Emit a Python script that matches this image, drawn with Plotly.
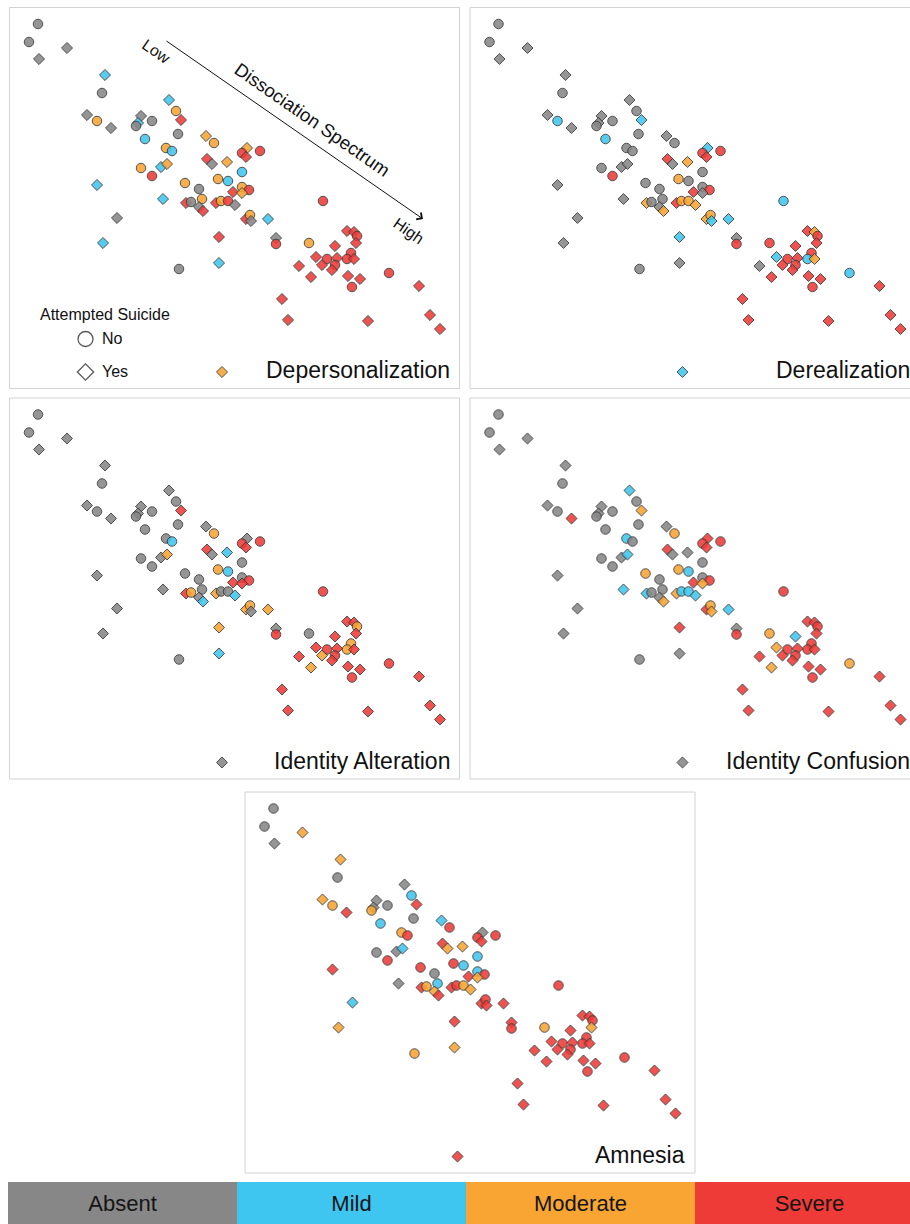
import plotly.graph_objects as go

W, H = 910, 1224
FONT = "Liberation Sans, Arial, sans-serif"

# Two-dimensional embedding of each respondent (shared by every panel)
dim1 = [2.8, 1.9, 2.9, 5.7, 9.5, 9.2, 7.7, 8.7, 10.1, 13.1,
        14.2, 12.8, 12.6, 15.9, 16.6, 17.1, 16.8, 13.5, 19.6, 20.4,
        15.6, 16.2, 23.7, 23.2, 23.6, 25.0, 19.7, 20.2, 21.7, 13.1,
        15.1, 15.7, 14.2, 23.2, 17.5, 20.8, 21.8, 18.9, 23.2, 23.9,
        22.3, 23.2, 15.3, 17.6, 18.1, 19.2, 18.9, 19.3, 20.6, 21.1,
        21.8, 22.5, 23.6, 24.0, 24.1, 25.8, 31.3, 8.7, 10.7, 9.3,
        16.9, 20.9, 20.9, 26.6, 26.6, 29.9, 33.7, 34.4, 34.7, 34.6,
        32.5, 30.6, 31.7, 32.7, 34.1, 33.7, 34.4, 31.2, 32.5, 32.2,
        28.9, 30.1, 33.8, 35.0, 34.2, 37.9, 40.9, 27.2, 27.8, 35.8,
        42.0, 43.0, 21.2]
dim2 = [36.4, 34.6, 32.9, 34.0, 31.3, 29.5, 27.3, 26.7, 26.0, 27.2,
        26.7, 26.5, 26.2, 28.8, 27.7, 26.8, 25.4, 24.9, 25.2, 24.5,
        24.0, 23.7, 24.0, 23.5, 23.1, 23.7, 22.9, 22.4, 22.6, 22.0,
        22.1, 22.4, 21.2, 21.6, 20.5, 20.9, 20.7, 19.9, 20.1, 19.8,
        19.6, 19.5, 18.9, 18.5, 18.6, 18.9, 18.1, 17.7, 18.5, 18.7,
        18.7, 18.3, 16.9, 17.3, 16.7, 16.9, 18.7, 20.3, 17.0, 14.5,
        11.9, 15.1, 12.5, 15.0, 14.4, 14.5, 15.7, 15.6, 15.2, 14.5,
        14.2, 13.1, 12.9, 13.0, 13.5, 12.9, 12.9, 12.3, 12.3, 11.8,
        12.2, 11.1, 11.2, 10.9, 10.1, 11.5, 10.2, 8.9, 6.8, 6.7,
        7.3, 5.9, 1.6]

# Attempted suicide: 0 = No, 1 = Yes
attempted = [0, 0, 1, 1, 1, 0, 1, 0, 1, 1,
             0, 1, 0, 1, 0, 1, 0, 0, 1, 0,
             0, 0, 1, 0, 1, 0, 1, 1, 1, 0,
             1, 1, 0, 0, 0, 0, 0, 0, 0, 0,
             1, 1, 1, 1, 0, 0, 1, 1, 1, 0,
             0, 1, 1, 0, 1, 1, 0, 1, 1, 1,
             0, 1, 1, 1, 0, 0, 1, 1, 0, 1,
             1, 1, 0, 1, 0, 0, 1, 1, 0, 1,
             1, 1, 1, 1, 0, 0, 1, 1, 1, 1,
             1, 1, 1]

# Severity per dimension: 0 Absent, 1 Mild, 2 Moderate, 3 Severe
depersonalization = [0, 0, 0, 0, 1, 0, 0, 2, 0, 0,
                     0, 1, 0, 1, 2, 3, 0, 1, 2, 2,
                     2, 1, 2, 3, 3, 3, 3, 0, 2, 2,
                     1, 2, 3, 1, 2, 2, 1, 0, 2, 3,
                     3, 2, 1, 3, 0, 2, 0, 3, 3, 2,
                     3, 0, 3, 2, 0, 1, 3, 1, 0, 1,
                     0, 3, 1, 0, 3, 2, 3, 3, 3, 3,
                     3, 3, 3, 3, 3, 3, 3, 3, 3, 3,
                     3, 3, 3, 3, 3, 3, 3, 3, 3, 3,
                     3, 3, 2]
derealization = [0, 0, 0, 0, 0, 0, 0, 1, 0, 0,
                 0, 0, 0, 0, 0, 1, 0, 1, 0, 0,
                 0, 0, 1, 3, 3, 3, 3, 0, 2, 0,
                 0, 0, 3, 0, 0, 2, 0, 0, 0, 3,
                 3, 0, 0, 2, 0, 0, 0, 2, 3, 2,
                 2, 2, 2, 2, 1, 1, 1, 0, 0, 0,
                 0, 1, 0, 0, 3, 3, 3, 2, 3, 3,
                 3, 1, 3, 3, 3, 1, 2, 3, 3, 3,
                 0, 3, 3, 3, 3, 1, 3, 3, 3, 3,
                 3, 3, 1]
identity_alteration = [0, 0, 0, 0, 0, 0, 0, 0, 0, 0,
                       0, 0, 0, 0, 0, 3, 0, 0, 0, 2,
                       0, 1, 0, 3, 3, 3, 3, 0, 1, 0,
                       0, 2, 0, 0, 0, 2, 1, 0, 0, 3,
                       3, 3, 0, 3, 2, 0, 0, 1, 2, 0,
                       0, 1, 2, 2, 0, 2, 3, 0, 0, 0,
                       0, 2, 1, 0, 3, 0, 3, 3, 2, 3,
                       3, 3, 3, 3, 2, 2, 3, 2, 3, 3,
                       3, 2, 3, 3, 3, 3, 3, 3, 3, 3,
                       3, 3, 0]
identity_confusion = [0, 0, 0, 0, 0, 0, 0, 0, 3, 0,
                      0, 0, 0, 1, 0, 2, 0, 0, 0, 2,
                      1, 0, 3, 3, 3, 3, 3, 0, 0, 0,
                      0, 1, 0, 0, 2, 2, 1, 0, 0, 3,
                      3, 2, 1, 1, 0, 0, 0, 2, 2, 1,
                      1, 1, 3, 2, 2, 1, 3, 0, 0, 0,
                      0, 3, 0, 0, 3, 2, 3, 3, 3, 3,
                      1, 2, 3, 3, 3, 3, 3, 3, 3, 3,
                      3, 2, 3, 3, 3, 2, 3, 3, 3, 3,
                      3, 3, 0]
amnesia = [0, 0, 0, 2, 2, 0, 2, 2, 3, 0,
           0, 0, 2, 0, 1, 3, 0, 1, 1, 3,
           2, 3, 0, 3, 3, 3, 3, 2, 2, 0,
           0, 1, 3, 1, 3, 3, 1, 0, 1, 3,
           3, 2, 0, 3, 2, 1, 2, 3, 3, 3,
           2, 2, 3, 3, 3, 3, 3, 3, 1, 2,
           2, 3, 2, 3, 3, 2, 3, 3, 3, 2,
           3, 3, 3, 3, 3, 3, 3, 3, 3, 3,
           3, 3, 3, 3, 3, 3, 3, 3, 3, 3,
           3, 3, 3]

severity_labels = ["Absent", "Mild", "Moderate", "Severe"]
severity_colors = ["#878787", "#3fc6f0", "#f8a533", "#ee3b37"]
attempt_labels = ["No", "Yes"]

# panel name, severity list, top-left pixel of the panel frame
panels = [
    ("Depersonalization", depersonalization, 9.5, 7.5),
    ("Derealization", derealization, 470.0, 7.5),
    ("Identity Alteration", identity_alteration, 9.5, 398.0),
    ("Identity Confusion", identity_confusion, 470.0, 398.0),
    ("Amnesia", amnesia, 245.0, 792.0),
]
PW, PH = 450.0, 381.0   # frame size in px
UNIT = 10.0             # px per embedding unit
X0, Y0 = -0.05, -0.05   # embedding value at the frame's left / bottom edge


def fx(px):
    return px / W


def fy(py):
    return 1 - py / H


fig = go.Figure()
layout = dict(
    width=W, height=H, margin=dict(l=0, r=0, t=0, b=0),
    paper_bgcolor="white", plot_bgcolor="white", showlegend=False,
    font=dict(family=FONT, color="#111111"),
    shapes=[], annotations=[], barmode="stack",
)

symbols = ["circle" if a == 0 else "diamond" for a in attempted]
sizes = [9.5 if a == 0 else 8.5 for a in attempted]

for i, (name, levels, left, top) in enumerate(panels):
    k = "" if i == 0 else str(i + 1)
    right = min(left + PW, W)
    xr = [X0, X0 + (right - left) / UNIT]
    yr = [Y0, Y0 + PH / UNIT]
    axis_style = dict(showgrid=False, zeroline=False, showticklabels=False,
                      showline=False, ticks="", fixedrange=True)
    layout["xaxis" + k] = dict(domain=[fx(left), fx(right)], range=xr,
                               anchor="y" + k, **axis_style)
    layout["yaxis" + k] = dict(domain=[fy(top + PH), fy(top)], range=yr,
                               anchor="x" + k, **axis_style)
    fig.add_trace(go.Scatter(
        x=dim1, y=dim2, mode="markers", xaxis="x" + k, yaxis="y" + k,
        marker=dict(symbol=symbols, size=sizes,
                    color=[severity_colors[v] for v in levels],
                    opacity=0.88,
                    line=dict(color="#383838", width=1)),
        hovertext=[f"{severity_labels[v]} / attempted: {attempt_labels[a]}"
                   for v, a in zip(levels, attempted)],
        hoverinfo="text",
    ))
    layout["shapes"].append(dict(
        type="rect", xref="paper", yref="paper",
        x0=fx(left), x1=fx(left + PW), y0=fy(top + PH), y1=fy(top),
        line=dict(color="#d2d2d2", width=1), fillcolor="rgba(0,0,0,0)",
        layer="below"))
    layout["annotations"].append(dict(
        text=name, xref="paper", yref="paper",
        x=fx(left + PW - 8), y=fy(top + 362.5),
        xanchor="right", yanchor="middle", showarrow=False,
        font=dict(size=23, color="#111111", family=FONT)))

# Dissociation spectrum arrow on the first panel
layout["annotations"] += [
    dict(text="", x=41.3, y=16.9, ax=15.5, ay=34.8, xref="x", yref="y",
         axref="x", ayref="y", showarrow=True, arrowhead=4, arrowsize=1.6,
         arrowwidth=1, arrowcolor="#111111", standoff=0, startstandoff=0),
    dict(text="Low", x=14.6, y=33.6, xref="x", yref="y", showarrow=False,
         textangle=34.8, font=dict(size=16, family=FONT, color="#111111")),
    dict(text="High", x=39.8, y=15.7, xref="x", yref="y", showarrow=False,
         textangle=34.8, font=dict(size=16, family=FONT, color="#111111")),
    dict(text="Dissociation Spectrum", x=30.2, y=26.8, xref="x", yref="y",
         showarrow=False, textangle=34.8,
         font=dict(size=18.5, family=FONT, color="#111111")),
]

# Shape key: Attempted Suicide
layout["annotations"].append(dict(
    text="Attempted Suicide", xref="paper", yref="paper", x=fx(38), y=fy(315),
    xanchor="left", yanchor="middle", showarrow=False,
    font=dict(size=16, family=FONT, color="#111111")))
key_top, key_bottom = 325.0, 385.0
layout["xaxis6"] = dict(domain=[fx(70), fx(110)], range=[-15.5, 24.5],
                        anchor="y6", visible=False, fixedrange=True)
layout["yaxis6"] = dict(domain=[fy(key_bottom), fy(key_top)], type="category",
                        categoryorder="array", categoryarray=attempt_labels,
                        range=[1.394, -0.424], anchor="x6", visible=False,
                        fixedrange=True)
fig.add_trace(go.Scatter(
    x=[0, 0], y=attempt_labels, mode="markers", xaxis="x6", yaxis="y6",
    marker=dict(symbol=["circle-open", "diamond-open"], size=[15, 12.5],
                color="#111111", line=dict(width=1.3)),
    hoverinfo="skip"))
for lab in attempt_labels:
    layout["annotations"].append(dict(
        text=lab, x=14.0, y=lab, xref="x6", yref="y6", xanchor="left",
        yanchor="middle", showarrow=False,
        font=dict(size=16, family=FONT, color="#111111")))

# Severity colour key along the bottom
SEG = 229.0
bar_left = 8.0
layout["xaxis7"] = dict(domain=[fx(bar_left), 1],
                        range=[0, (W - bar_left) / SEG], anchor="y7",
                        visible=False, fixedrange=True)
layout["yaxis7"] = dict(domain=[0, fy(1182)], range=[-0.5, 0.5],
                        anchor="x7", visible=False, fixedrange=True)
for lab, col in zip(severity_labels, severity_colors):
    fig.add_trace(go.Bar(
        y=[0], x=[1], orientation="h", width=1, xaxis="x7", yaxis="y7",
        marker=dict(color=col, line=dict(width=0)),
        text=[lab], textposition="inside", insidetextanchor="middle",
        textangle=0, cliponaxis=True,
        textfont=dict(size=22, family=FONT, color="#151515"),
        hoverinfo="skip"))

fig.update_layout(**layout)
fig.write_html("out.html")
